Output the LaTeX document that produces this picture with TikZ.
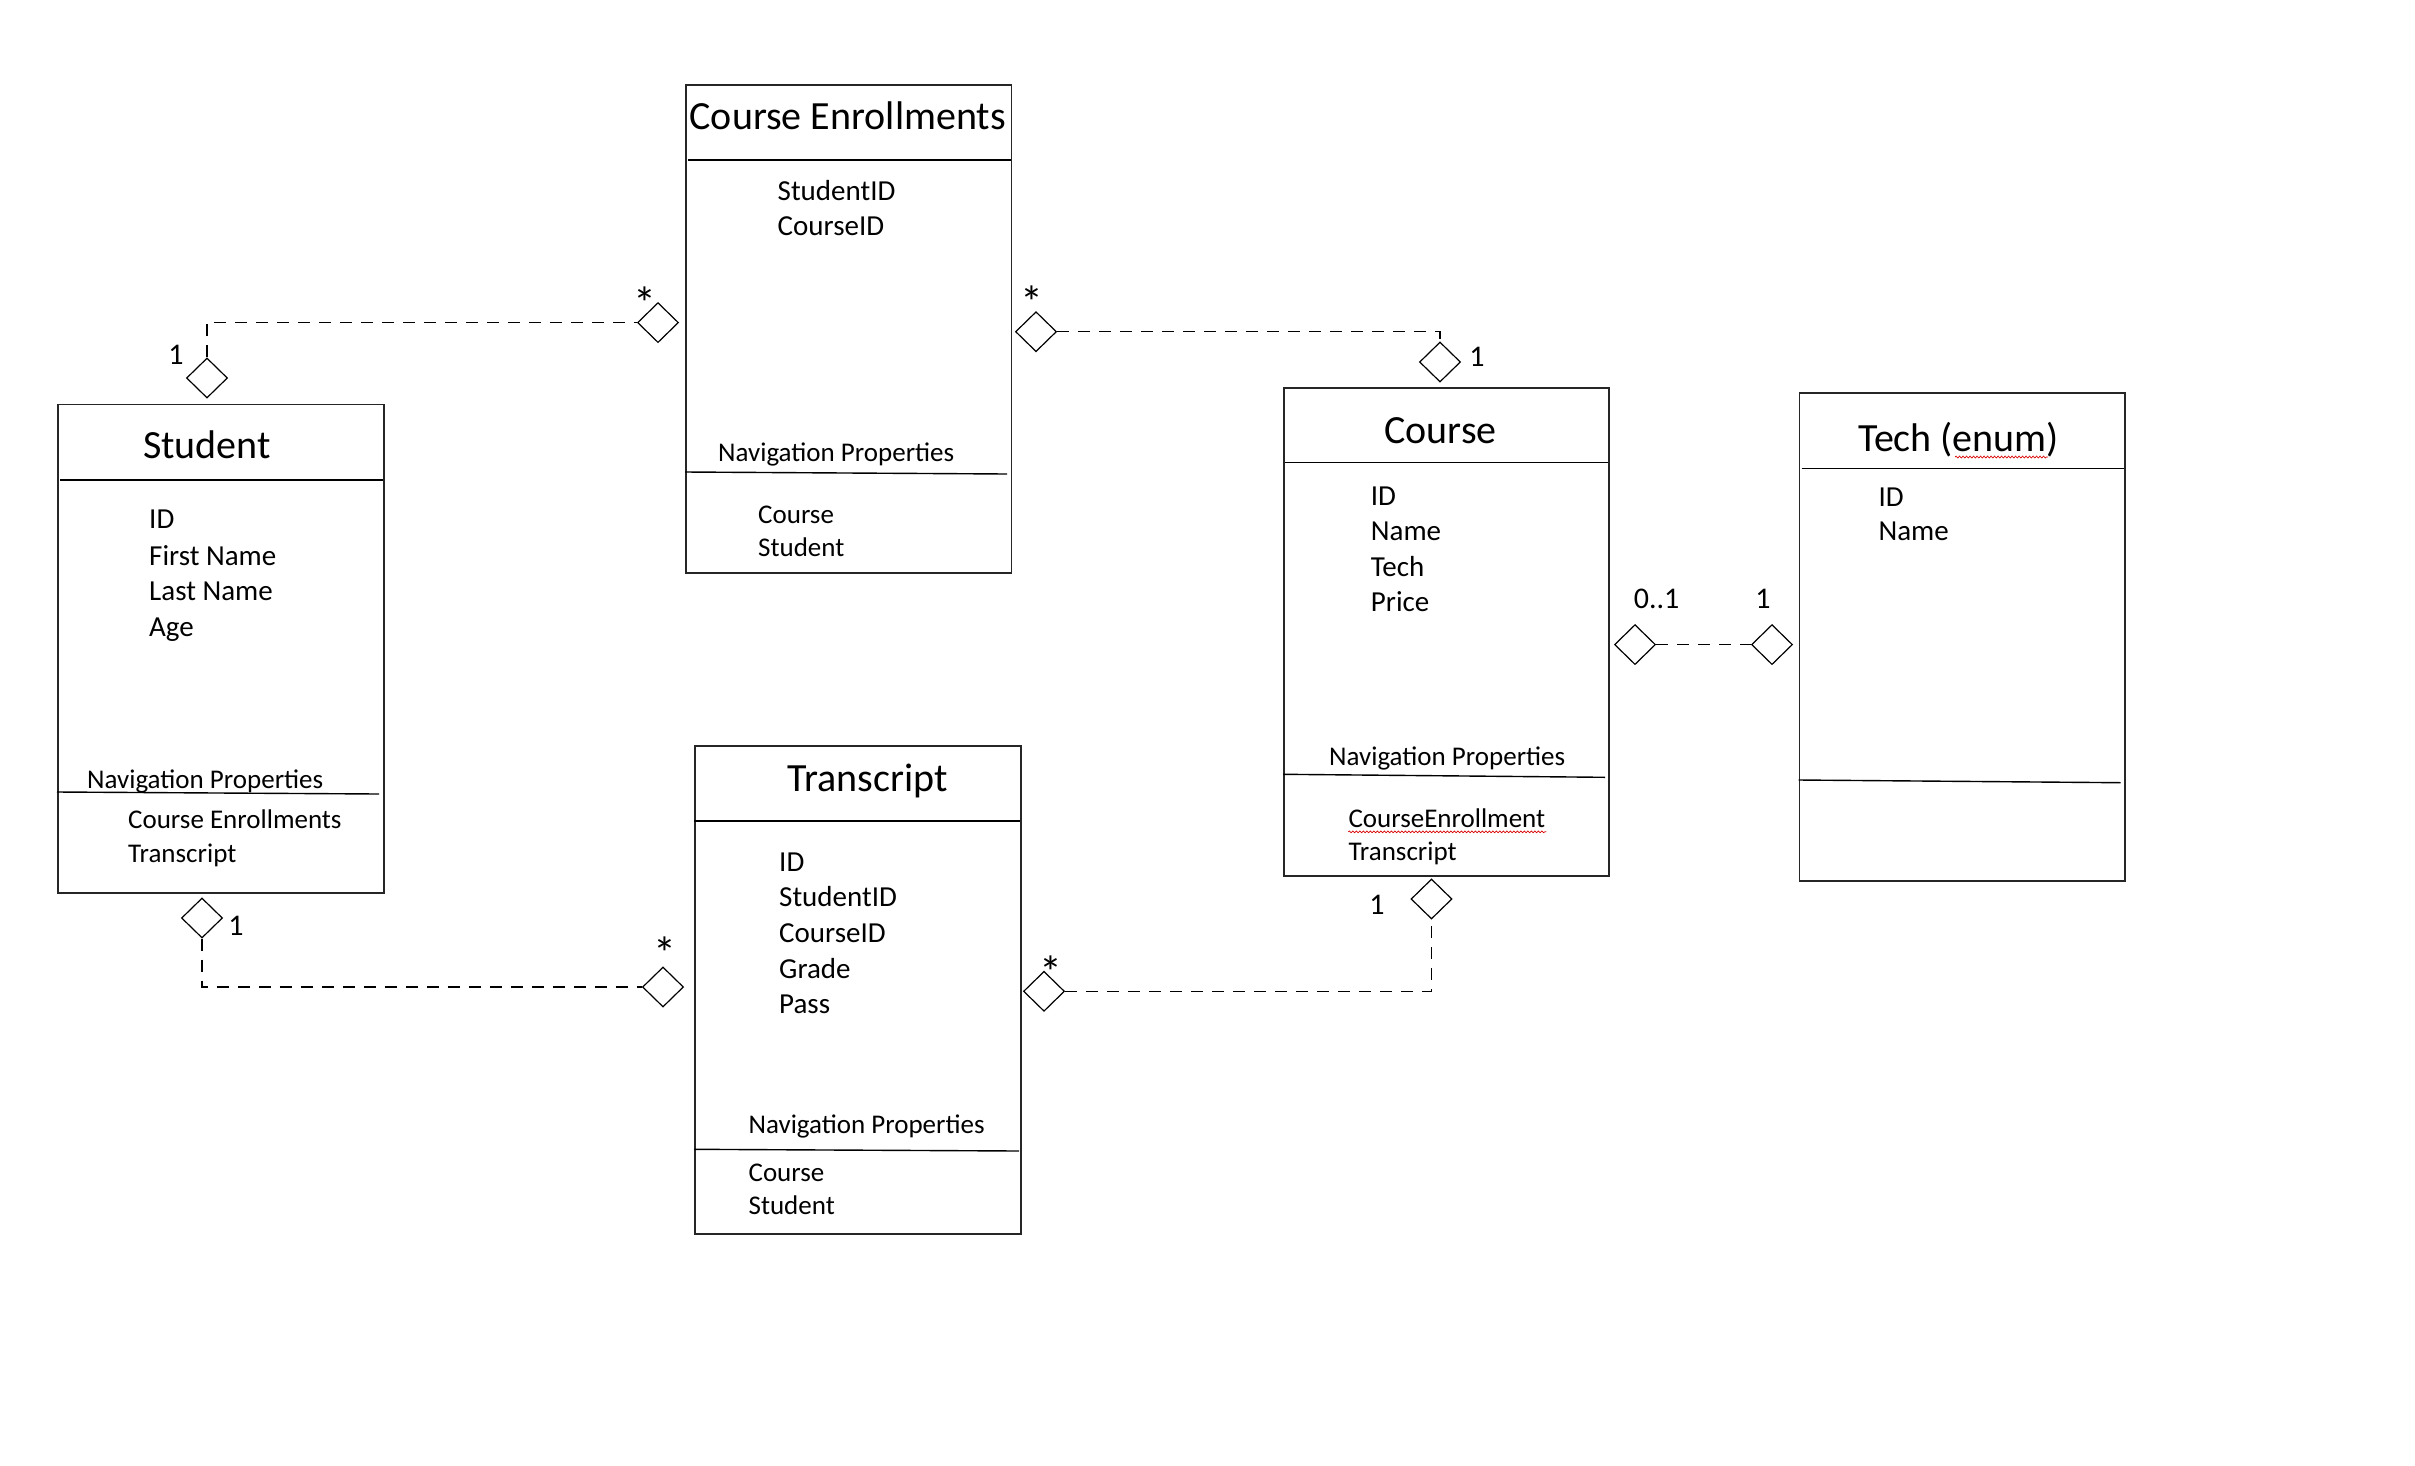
\documentclass[tikz,border=0pt]{standalone}
\usepackage{fontspec}
\setmainfont{Carlito}
\usetikzlibrary{shapes.geometric,decorations.pathmorphing}

\tikzset{
  umlbox/.style={draw=black!85, line width=1.6pt, anchor=north west, inner sep=0pt},
  sepline/.style={draw=black, line width=1.4pt},
  clsname/.style={font=\fontsize{40}{48}\selectfont, anchor=base, inner sep=0pt},
  attr/.style={font=\fontsize{29}{34}\selectfont, anchor=base west, inner sep=0pt},
  navlbl/.style={font=\fontsize{27}{32}\selectfont, anchor=base west, inner sep=0pt},
  navitem/.style={font=\fontsize{27}{32}\selectfont, anchor=base west, inner sep=0pt},
  mult/.style={font=\fontsize{30}{36}\selectfont, anchor=base, inner sep=0pt},
  many/.style={font=\fontsize{46}{52}\selectfont, anchor=base, inner sep=0pt},
  agg/.style={diamond, draw=black, line width=1.2pt, fill=white, minimum width=41pt,
    minimum height=40pt, inner sep=0pt},
  assoc/.style={draw=black, line width=1.3pt, dash pattern=on 12pt off 9pt},
  spell/.style={draw=red!85!black, line width=0.7pt,
    decorate, decoration={snake, amplitude=0.9pt, segment length=3.5pt}}
}

\begin{document}
\begin{tikzpicture}[x=1pt, y=-1pt]
\fill[white] (0,0) rectangle (2415,1465);
\useasboundingbox (0,0) rectangle (2415,1465);

% ---------- Student ----------
\node[umlbox, minimum width=326pt, minimum height=488.5pt] (student) at (57,403.5) {};
\draw[sepline] (60,480) -- (383,480);
\draw[sepline] (57,792) -- (379,794);
\node[clsname] (studentT) at (207,458.6) {Student};
\node[attr] (sA1) at (149,528) {ID};
\node[attr] (sA2) at (149,565) {First Name};
\node[attr] (sA3) at (149,600) {Last Name};
\node[attr] (sA4) at (149,636) {Age};
\node[navlbl] (sNav) at (87,788) {Navigation Properties};
\node[navitem] (sN1) at (128,828) {Course Enrollments};
\node[navitem] (sN2) at (128,862) {Transcript};

% ---------- Course Enrollments ----------
\node[umlbox, minimum width=325.7pt, minimum height=488pt] (enroll) at (685,84) {};
\draw[sepline] (688,160) -- (1010.7,160);
\draw[sepline] (685,472) -- (1007,474);
\node[clsname] (enrollT) at (847.7,129) {Course Enrollments};
\node[attr] (eA1) at (777.5,200) {StudentID};
\node[attr] (eA2) at (777.5,235.7) {CourseID};
\node[navlbl] (eNav) at (718,461.7) {Navigation Properties};
\node[navitem] (eN1) at (758,523) {Course};
\node[navitem] (eN2) at (758,556) {Student};

% ---------- Course ----------
\node[umlbox, minimum width=325pt, minimum height=488pt] (course) at (1283,387) {};
\draw[sepline] (1285,462.5) -- (1608,462.5);
\draw[sepline] (1283,774.3) -- (1605,777.3);
\node[clsname] (courseT) at (1440.5,443.5) {Course};
\node[attr] (cA1) at (1370.7,505) {ID};
\node[attr] (cA2) at (1370.7,540.7) {Name};
\node[attr] (cA3) at (1370.7,576.7) {Tech};
\node[attr] (cA4) at (1370.7,611.5) {Price};
\node[navlbl] (cNav) at (1329,765.7) {Navigation Properties};
\node[navitem] (cN1) at (1348.3,827.3) {CourseEnrollment};
\node[navitem] (cN2) at (1348.3,860) {Transcript};
\draw[spell] (cN1.base west) ++(0,4.5) -- ++(198,0);

% ---------- Tech (enum) ----------
\node[umlbox, minimum width=325.5pt, minimum height=488pt] (tech) at (1798.5,392) {};
\draw[sepline] (1801.7,468.7) -- (2124,468.7);
\draw[sepline] (1798.5,780) -- (2120.7,782.7);
\node[clsname] (techT) at (1958.5,451.7) {Tech (enum)};
\node[attr] (tA1) at (1878.3,506) {ID};
\node[attr] (tA2) at (1878.3,540.7) {Name};
\draw[spell] (1955,457) -- (2048,457);

% ---------- Transcript ----------
\node[umlbox, minimum width=326pt, minimum height=488.3pt] (transcript) at (694,745) {};
\draw[sepline] (694,821) -- (1020,821);
\draw[sepline] (694,1149.3) -- (1019,1151);
\node[clsname] (transT) at (867.7,791) {Transcript};
\node[attr] (rA1) at (779,871.7) {ID};
\node[attr] (rA2) at (779,906.7) {StudentID};
\node[attr] (rA3) at (779,942.7) {CourseID};
\node[attr] (rA4) at (779,978.3) {Grade};
\node[attr] (rA5) at (779,1013.3) {Pass};
\node[navlbl] (rNav) at (748.4,1133.3) {Navigation Properties};
\node[navitem] (rN1) at (748.4,1181.7) {Course};
\node[navitem] (rN2) at (748.4,1214) {Student};

% ---------- aggregation diamonds ----------
\node[agg] (d1) at (207,378) {};
\node[agg] (d2) at (658,322.6) {};
\node[agg] (d3) at (1036,331.7) {};
\node[agg] (d4) at (1440,362) {};
\node[agg] (d5) at (1635,644.6) {};
\node[agg] (d6) at (1772,644.6) {};
\node[agg] (d7) at (202,918) {};
\node[agg] (d8) at (663,987) {};
\node[agg] (d9) at (1044,991.3) {};
\node[agg] (d10) at (1431.5,899) {};

% ---------- associations ----------
\draw[assoc] (d1.north) |- (d2.west);
\draw[assoc] (d3.east) -| (d4.north);
\draw[assoc] (d5.east) -- (d6.west);
\draw[assoc] (d7.south) |- (d8.west);
\draw[assoc] (d9.east) -| (d10.south);

% ---------- multiplicities ----------
\node[mult] (m1) at (176,364.5) {1};
\node[many] (m2) at (645,319) {*};
\node[many] (m3) at (1032,318.3) {*};
\node[mult] (m4) at (1477,366) {1};
\node[mult] (m5) at (1656.6,608) {0..1};
\node[mult] (m6) at (1763,608) {1};
\node[mult] (m7) at (236,935) {1};
\node[many] (m8) at (665,969) {*};
\node[many] (m9) at (1051.4,988.3) {*};
\node[mult] (m10) at (1377,914.3) {1};
\end{tikzpicture}
\end{document}
